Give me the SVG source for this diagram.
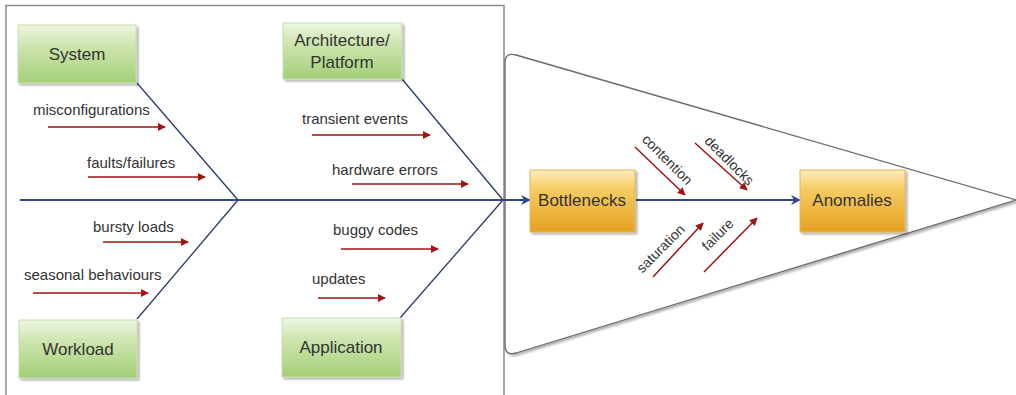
<svg xmlns="http://www.w3.org/2000/svg" width="1016" height="395" viewBox="0 0 1016 395">
<defs>
<linearGradient id="green" x1="0" y1="0" x2="0" y2="1">
<stop offset="0" stop-color="#eef6e2"/>
<stop offset="0.35" stop-color="#cfe5b0"/>
<stop offset="1" stop-color="#a3cf78"/>
</linearGradient>
<linearGradient id="orange" x1="0" y1="0" x2="0" y2="1">
<stop offset="0" stop-color="#fdedc0"/>
<stop offset="0.3" stop-color="#f6cc63"/>
<stop offset="1" stop-color="#e6a021"/>
</linearGradient>
<filter id="shadow" x="-10%" y="-10%" width="130%" height="130%">
<feDropShadow dx="2" dy="2" stdDeviation="1.2" flood-color="#000" flood-opacity="0.3"/>
</filter>
<marker id="redhead" viewBox="0 0 10 10" refX="9" refY="5" markerWidth="8" markerHeight="8" markerUnits="userSpaceOnUse" orient="auto">
<path d="M0,0 L10,5 L0,10 z" fill="#a01414"/>
</marker>
<marker id="bluehead" viewBox="0 0 10 10" refX="9" refY="5" markerWidth="10" markerHeight="10" markerUnits="userSpaceOnUse" orient="auto">
<path d="M0,0 L10,5 L0,10 L3,5 z" fill="#2c4a8c"/>
</marker>
</defs>
<style>
.lbl{font-family:"Liberation Sans",Arial,sans-serif;font-size:15px;fill:#333}
.rlbl{font-family:"Liberation Sans",Arial,sans-serif;font-size:14px;fill:#333}
.node{font-family:"Liberation Sans",Arial,sans-serif;font-size:17px;fill:#333;text-anchor:middle}
.gbox{fill:url(#green);stroke:#c6ddb0;stroke-width:1;filter:url(#shadow)}
.obox{fill:url(#orange);stroke:#e3b65a;stroke-width:1;filter:url(#shadow)}
.red{stroke:#a01414;stroke-width:1.5;fill:none;marker-end:url(#redhead)}
.bone{stroke:#2b3a6b;stroke-width:1.3;fill:none}
.spine{stroke:#2c4a8c;stroke-width:2.2;fill:none;marker-end:url(#bluehead)}
</style>
<rect x="0" y="0" width="1016" height="395" fill="#fff"/>
<g id="frame">
<rect x="6" y="5.5" width="498" height="400" fill="none" stroke="#8c8c8c" stroke-width="1.5"/>
</g>
<g id="funnel">
<path d="M505,63 Q505,52 516,55 L1016,200 L516,353 Q505,356 505,345 Z" fill="#fff" stroke="#6a6a6a" stroke-width="1.3" filter="url(#shadow)"/>
</g>
<g id="connectors">
<line class="spine" x1="20" y1="200" x2="530" y2="200"/>
<line class="spine" x1="636" y1="200" x2="800" y2="200"/>
<line class="bone" x1="137" y1="83" x2="238" y2="200"/>
<line class="bone" x1="137" y1="319" x2="238" y2="200"/>
<line class="bone" x1="402" y1="79" x2="503" y2="200"/>
<line class="bone" x1="400" y1="318" x2="503" y2="200"/>
<line class="red" x1="48" y1="127" x2="165" y2="127"/>
<line class="red" x1="88" y1="177" x2="205" y2="177"/>
<line class="red" x1="103" y1="242" x2="188" y2="242"/>
<line class="red" x1="33" y1="293" x2="148" y2="293"/>
<line class="red" x1="312" y1="135" x2="430" y2="135"/>
<line class="red" x1="352" y1="184" x2="468" y2="184"/>
<line class="red" x1="341" y1="249" x2="438" y2="249"/>
<line class="red" x1="318" y1="298" x2="385" y2="298"/>
<line class="red" x1="635" y1="147" x2="685" y2="195"/>
<line class="red" x1="695" y1="143" x2="747" y2="190"/>
<line class="red" x1="653" y1="277" x2="703" y2="223"/>
<line class="red" x1="704" y1="272" x2="757" y2="218"/>
</g>
<g id="labels">
<text class="lbl" x="33" y="115">misconfigurations</text>
<text class="lbl" x="87" y="168">faults/failures</text>
<text class="lbl" x="93" y="232">bursty loads</text>
<text class="lbl" x="24" y="280">seasonal behaviours</text>
<text class="lbl" x="302" y="124">transient events</text>
<text class="lbl" x="332" y="175">hardware errors</text>
<text class="lbl" x="333" y="235">buggy codes</text>
<text class="lbl" x="312" y="284">updates</text>
<text class="rlbl" text-anchor="middle" x="664" y="163" transform="rotate(45 664 163)">contention</text>
<text class="rlbl" text-anchor="middle" x="726" y="164" transform="rotate(45 726 164)">deadlocks</text>
<text class="rlbl" text-anchor="middle" x="664" y="252" transform="rotate(-45 664 252)">saturation</text>
<text class="rlbl" text-anchor="middle" x="721" y="238" transform="rotate(-45 721 238)">failure</text>
</g>
<g id="system">
<rect class="gbox" x="18" y="25" width="118" height="58"/>
<text class="node" x="77" y="60">System</text>
</g>
<g id="workload">
<rect class="gbox" x="19" y="320" width="118" height="58"/>
<text class="node" x="78" y="355">Workload</text>
</g>
<g id="architecture">
<rect class="gbox" x="283" y="23" width="119" height="56"/>
<text class="node" x="342" y="46">Architecture/</text>
<text class="node" x="342" y="68">Platform</text>
</g>
<g id="application">
<rect class="gbox" x="282" y="318" width="119" height="59"/>
<text class="node" x="341" y="353">Application</text>
</g>
<g id="bottlenecks">
<rect class="obox" x="530" y="170" width="105" height="62"/>
<text class="node" x="582" y="206">Bottlenecks</text>
</g>
<g id="anomalies">
<rect class="obox" x="800" y="170" width="105" height="62"/>
<text class="node" x="852" y="206">Anomalies</text>
</g>
</svg>
